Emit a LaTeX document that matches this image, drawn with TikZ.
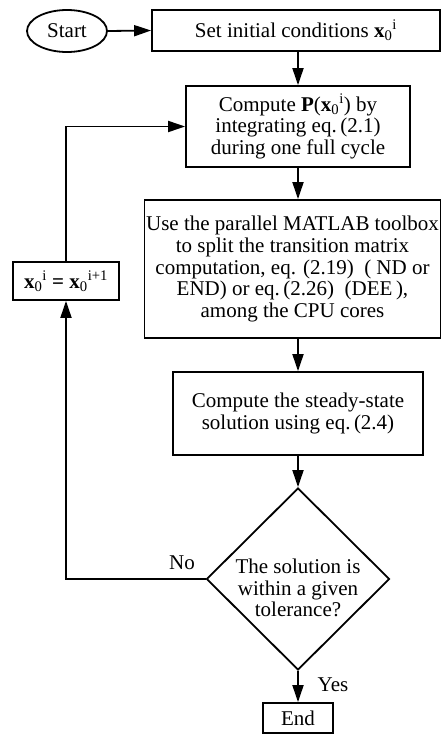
\documentclass[tikz,border=0pt]{standalone}
\usepackage{fontspec}
\setmainfont{Liberation Serif}
\usetikzlibrary{shapes.geometric,arrows.meta}
\begin{document}
\begin{tikzpicture}[x=1pt,y=-1pt,
  every node/.style={font=\fontsize{21}{21.7}\selectfont, inner sep=0pt},
  box/.style={draw, line width=1.8pt, rectangle, align=center},
  conn/.style={line width=1.8pt, -{Triangle[length=17pt,width=11pt]}}]
\useasboundingbox (0,0) rectangle (442,734);
\node[draw, ellipse, line width=1.8pt, minimum width=80pt, minimum height=42pt] (start) at (67,31) {Start};
\node[box, minimum width=288pt, minimum height=41pt] (set) at (296,30.5) {Set initial conditions \textbf{x}\textsubscript{0}\textsuperscript{i}};
\node[box, minimum width=224pt, minimum height=81pt] (comp) at (298,126.5) {Compute \textbf{P}(\textbf{x}\textsubscript{0}\textsuperscript{i}) by\\integrating eq.\,(2.1)\\during one full cycle};
\node[box, minimum width=296pt, minimum height=138pt] (par) at (292.5,269) {Use the parallel MATLAB toolbox\\to split the transition matrix\\computation, eq. (2.19)~~( ND or\\END) or eq.\,(2.26)~~(DEE\,),\\among the CPU cores};
\node[box, minimum width=250pt, minimum height=83pt] (ss) at (298,413.5) {Compute the steady-state\\solution using eq.\,(2.4)};
\node[draw, diamond, aspect=1, line width=1.8pt, minimum width=183pt, minimum height=182pt] (test) at (298,579) {};
\node[align=center] (testtxt) at (298,588) {The solution is\\within a given\\tolerance?};
\node[box, minimum width=70pt, minimum height=30pt] (end) at (298,718) {End};
\node[box, minimum width=106pt, minimum height=38pt] (upd) at (66,281) {\textbf{x}\textsubscript{0}\textsuperscript{i} \textbf{=} \textbf{x}\textsubscript{0}\textsuperscript{i+1}};
\node (no) at (182,563) {No};
\node (yes) at (333,685) {Yes};
\draw[conn] (start.east) -- (set.west);
\draw[conn] (comp.north |- set.south) -- (comp.north);
\draw[conn] (comp.south) -- (comp.south |- par.north);
\draw[conn] (ss.north |- par.south) -- (ss.north);
\draw[conn] (ss.south) -- (test.north);
\draw[conn] (test.south) -- (end.north);
\draw[conn] (test.west) -| (upd.south);
\draw[conn] (upd.north) |- (comp.west);
\end{tikzpicture}
\end{document}
